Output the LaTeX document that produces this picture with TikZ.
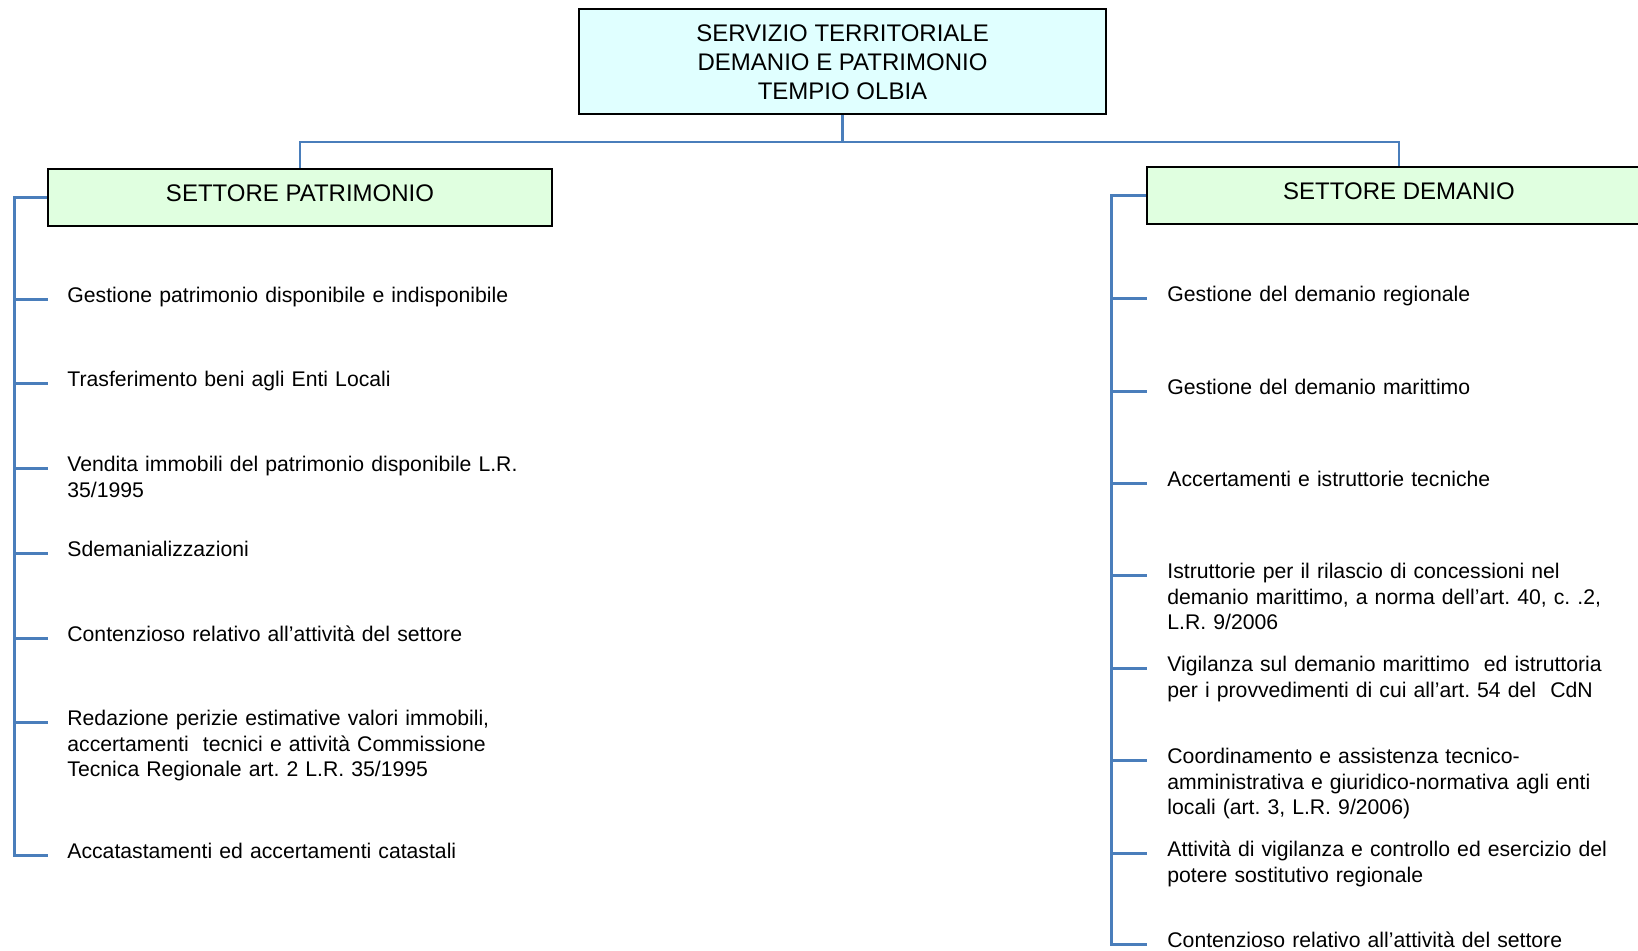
\documentclass[tikz,border=0pt]{standalone}
\usepackage{fontspec}
\setmainfont{Liberation Sans}
\usetikzlibrary{calc}
\definecolor{linkblue}{RGB}{74,126,187}
\definecolor{topfill}{RGB}{224,255,255}
\definecolor{secfill}{RGB}{224,255,224}
\frenchspacing
\begin{document}
\begin{tikzpicture}[x=0.5pt,y=-0.5pt,
  topbox/.style={draw=black,line width=1pt,fill=topfill,minimum width=263.5pt,minimum height=52.5pt,
    align=center,inner sep=0pt,font=\fontsize{12}{14.6}\selectfont},
  secbox/.style={draw=black,line width=1pt,fill=secfill,minimum width=252pt,minimum height=28.5pt,
    inner sep=0pt,text depth=4.5pt,font=\fontsize{12}{14.4}\selectfont},
  conn/.style={draw=linkblue,line width=1.1pt},
  bus/.style={draw=linkblue,line width=1.5pt},
  itemL/.style={anchor=base west,inner sep=0pt,align=left,text width=240pt,font=\fontsize{10.6}{12.8}\selectfont},
  itemR/.style={anchor=base west,inner sep=0pt,align=left,text width=234pt,font=\fontsize{10.6}{12.8}\selectfont}]
\useasboundingbox (0,0) rectangle (1638,951);
\clip (0,0) rectangle (1638,951);

\node[topbox] (top) at (842.5,62) {SERVIZIO TERRITORIALE\\DEMANIO E PATRIMONIO\\TEMPIO OLBIA};
\node[secbox] (patr) at (300,197.5) {SETTORE PATRIMONIO};
\node[secbox] (dem) at (1399,195.5) {SETTORE DEMANIO};

\draw[conn] (top.south) -- ++(0,26.5) coordinate (tj);
\draw[conn] (tj) -| (patr.north);
\draw[conn] (tj) -| (dem.north);

% left items
\node[itemL] (p1) at (67,303) {Gestione patrimonio disponibile e indisponibile};
\node[itemL] (p2) at (67,387) {Trasferimento beni agli Enti Locali};
\node[itemL] (p3) at (67,472) {Vendita immobili del patrimonio disponibile L.R.\\35/1995};
\node[itemL] (p4) at (67,556.5) {Sdemanializzazioni};
\node[itemL] (p5) at (67,641) {Contenzioso relativo all’attività del settore};
\node[itemL] (p6) at (67,725.5) {Redazione perizie estimative valori immobili,\\accertamenti\ \ tecnici e attività Commissione\\Tecnica Regionale art. 2 L.R. 35/1995};
\node[itemL] (p7) at (67,858.5) {Accatastamenti ed accertamenti catastali};

% right items
\node[itemR] (d1) at (1167,301.5) {Gestione del demanio regionale};
\node[itemR] (d2) at (1167,394.5) {Gestione del demanio marittimo};
\node[itemR] (d3) at (1167,486.5) {Accertamenti e istruttorie tecniche};
\node[itemR] (d4) at (1167,578.5) {Istruttorie per il rilascio di concessioni nel\\demanio marittimo, a norma dell’art. 40, c. .2,\\L.R. 9/2006};
\node[itemR] (d5) at (1167,671.5) {Vigilanza sul demanio marittimo\ \ ed istruttoria\\per i provvedimenti di cui all’art. 54 del\ \ CdN};
\node[itemR] (d6) at (1167,763.5) {Coordinamento e assistenza tecnico-\\amministrativa e giuridico-normativa agli enti\\locali (art. 3, L.R. 9/2006)};
\node[itemR] (d7) at (1167,856.5) {Attività di vigilanza e controllo ed esercizio del\\potere sostitutivo regionale};
\node[itemR] (d8) at (1167,947.5) {Contenzioso relativo all’attività del settore};

% left bus
\coordinate (lb) at ($(patr.west)+(-33,0)$);
\draw[bus] (patr.west) -- (lb) |- ($(p7.base west)+(-19,-3)$);
\foreach \i in {1,...,6}{
  \draw[bus] ($(lb |- p\i.base west)+(0,-3)$) -- ($(p\i.base west)+(-19,-3)$);
}

% right bus
\coordinate (rb) at ($(dem.west)+(-35,0)$);
\draw[bus] (dem.west) -- (rb) |- ($(d8.base west)+(-20,-3)$);
\foreach \i in {1,...,7}{
  \draw[bus] ($(rb |- d\i.base west)+(0,-3)$) -- ($(d\i.base west)+(-20,-3)$);
}
\end{tikzpicture}
\end{document}
